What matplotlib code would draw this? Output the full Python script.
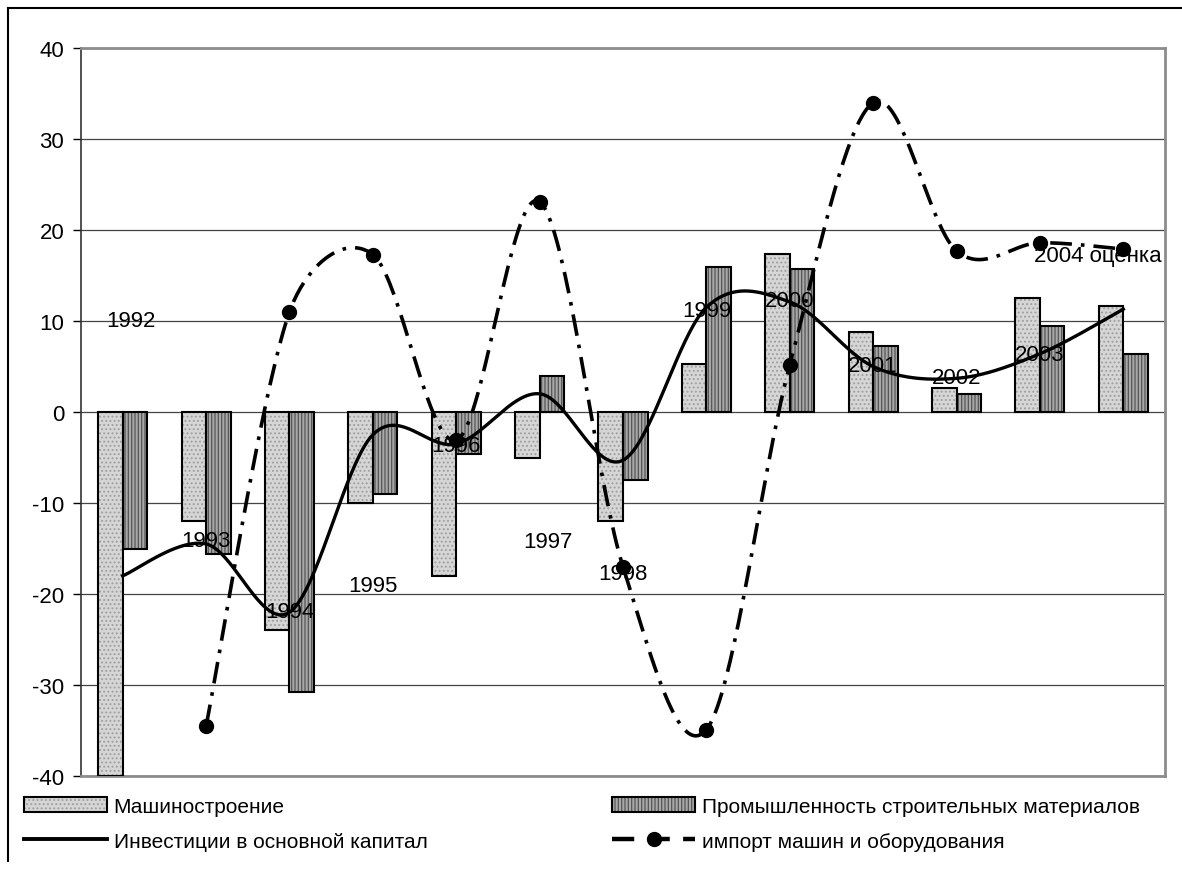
import numpy as np
import matplotlib
matplotlib.use('Agg')
import matplotlib.pyplot as plt
from matplotlib.lines import Line2D
from matplotlib.patches import Patch

plt.rcParams['font.family'] = ['Liberation Sans', 'DejaVu Sans']
plt.rcParams['axes.unicode_minus'] = False
plt.rcParams['hatch.linewidth'] = 0.9

years = ['1992', '1993', '1994', '1995', '1996', '1997', '1998',
         '1999', '2000', '2001', '2002', '2003', '2004 оценка']
mash = [-40, -12, -24, -10, -18, -5, -12, 5.3, 17.4, 8.8, 2.6, 12.5, 11.7]
stroy = [-15, -15.6, -30.8, -9, -4.6, 4.0, -7.5, 15.9, 15.7, 7.3, 2.0, 9.5, 6.4]
invest = [-18, -14.5, -22, -2.5, -3.5, 2.0, -5.3, 11.5, 12.1, 5.0, 3.7, 6.4, 11.3]
imp_years = years[1:]
imp = [-34.5, 11.0, 17.3, -3.1, 23.1, -17.0, -34.9, 5.2, 34.0, 17.7, 18.6, 17.9]

# where the year labels sit (category position, value)
label_pos = [(0.1, 10.0), (1.0, -14.1), (2.0, -21.9), (3.0, -19.1), (4.0, -3.7),
             (5.1, -14.2), (6.0, -17.7), (7.0, 11.1), (8.0, 12.2), (9.0, 5.1),
             (10.0, 3.8), (11.0, 6.3), (11.7, 17.2)]

PX_X, PX_Y = 83.4, 9.1  # pixels per category / per unit, for the smoothing


def smooth(x, y, n=40):
    # excel-like smoothed line: cubic bezier through the points,
    # control arms limited so it does not overshoot too much
    pts = np.column_stack([np.asarray(x, float) * PX_X, np.asarray(y, float) * PX_Y])
    pts = np.vstack([pts[0], pts, pts[-1]])
    t = np.linspace(0, 1, n)[:, None]
    out = []
    for i in range(1, len(pts) - 2):
        p0, p3 = pts[i], pts[i + 1]
        seg_len = np.hypot(*(p3 - p0))
        d1 = (pts[i + 1] - pts[i - 1]) / 6
        d2 = (pts[i + 2] - pts[i]) / 6
        for d in (d1, d2):
            L = np.hypot(*d)
            if L > 0.5 * seg_len:
                d *= 0.5 * seg_len / L
        p1, p2 = p0 + d1, p3 - d2
        out.append((1 - t) ** 3 * p0 + 3 * (1 - t) ** 2 * t * p1 + 3 * (1 - t) * t ** 2 * p2 + t ** 3 * p3)
    out = np.vstack(out)
    return out[:, 0] / PX_X, out[:, 1] / PX_Y


fig = plt.figure(figsize=(11.82, 8.70), dpi=100)
ax = fig.add_axes([81 / 1182, 1 - 777 / 870, (1165 - 81) / 1182, (777 - 49) / 870])

x = np.arange(len(years))
w = 0.294
M_FACE, M_HATCH, M_PAT = '#d6d6d6', '#a0a0a0', '....'
S_FACE, S_HATCH, S_PAT = '#a8a8a8', '#555555', '|||||'

# fills with pattern, then black outlines on top
ax.bar(x - w / 2, mash, w, color=M_FACE, hatch=M_PAT, edgecolor=M_HATCH, linewidth=0, zorder=2)
ax.bar(x + w / 2, stroy, w, color=S_FACE, hatch=S_PAT, edgecolor=S_HATCH, linewidth=0, zorder=2)
ax.bar(x - w / 2, mash, w, fill=False, edgecolor='black', linewidth=1.5, zorder=3)
ax.bar(x + w / 2, stroy, w, fill=False, edgecolor='black', linewidth=1.5, zorder=3)

sx, sy = smooth(x, invest)
ax.plot(sx, sy, color='black', lw=2.4, zorder=4)

ix = x[1:]
sx, sy = smooth(ix, imp)
ax.plot(sx, sy, color='black', lw=2.6, linestyle=(0, (6, 2.5, 1, 2.5)), zorder=5)
ax.plot(ix, imp, 'o', color='black', markersize=10, zorder=6)

for (cx, cy), lab in zip(label_pos, years):
    ax.text(cx, cy, lab, ha='center', va='center', fontsize=16, zorder=7)

ax.set_xlim(-0.5, len(years) - 0.5)
ax.set_ylim(-40, 40)
ax.set_yticks(range(-40, 41, 10))
ax.set_xticks([])
ax.tick_params(axis='y', labelsize=16, length=6, width=1, pad=6)
ax.yaxis.grid(True, color='#444444', lw=0.9)
ax.set_axisbelow(True)
for s in ['top', 'right', 'bottom']:
    ax.spines[s].set_color('#8c8c8c')
    ax.spines[s].set_linewidth(2)
ax.spines['left'].set_color('#333333')
ax.spines['left'].set_linewidth(1.2)

# outer chart frame
fig.add_artist(Line2D([8 / 1182, 8 / 1182], [1 - 9 / 870, 1 - 862 / 870], color='black', lw=1.5))
fig.add_artist(Line2D([8 / 1182, 1.0], [1 - 9 / 870, 1 - 9 / 870], color='black', lw=1.5))

h_mash = (Patch(facecolor=M_FACE, hatch=M_PAT, edgecolor=M_HATCH, linewidth=0),
          Patch(fill=False, edgecolor='black', linewidth=1.5))
h_stroy = (Patch(facecolor=S_FACE, hatch=S_PAT, edgecolor=S_HATCH, linewidth=0),
           Patch(fill=False, edgecolor='black', linewidth=1.5))
h_inv = Line2D([], [], color='black', lw=2.8)
h_imp = Line2D([], [], color='black', lw=3.2, linestyle=(0, (5, 3)), marker='o', markersize=10)

kw = dict(loc='upper left', frameon=False, fontsize=15, handlelength=4.0,
          handletextpad=0.3, borderpad=0, borderaxespad=0, labelspacing=0.75)
fig.legend([h_mash, h_inv], ['Машиностроение', 'Инвестиции в основной капитал'],
           bbox_to_anchor=(24 / 1182, 1 - 798 / 870), **kw)
fig.legend([h_stroy, h_imp], ['Промышленность строительных материалов', 'импорт машин и оборудования'],
           bbox_to_anchor=(612 / 1182, 1 - 798 / 870), **kw)

fig.savefig('out.png', dpi=100)
